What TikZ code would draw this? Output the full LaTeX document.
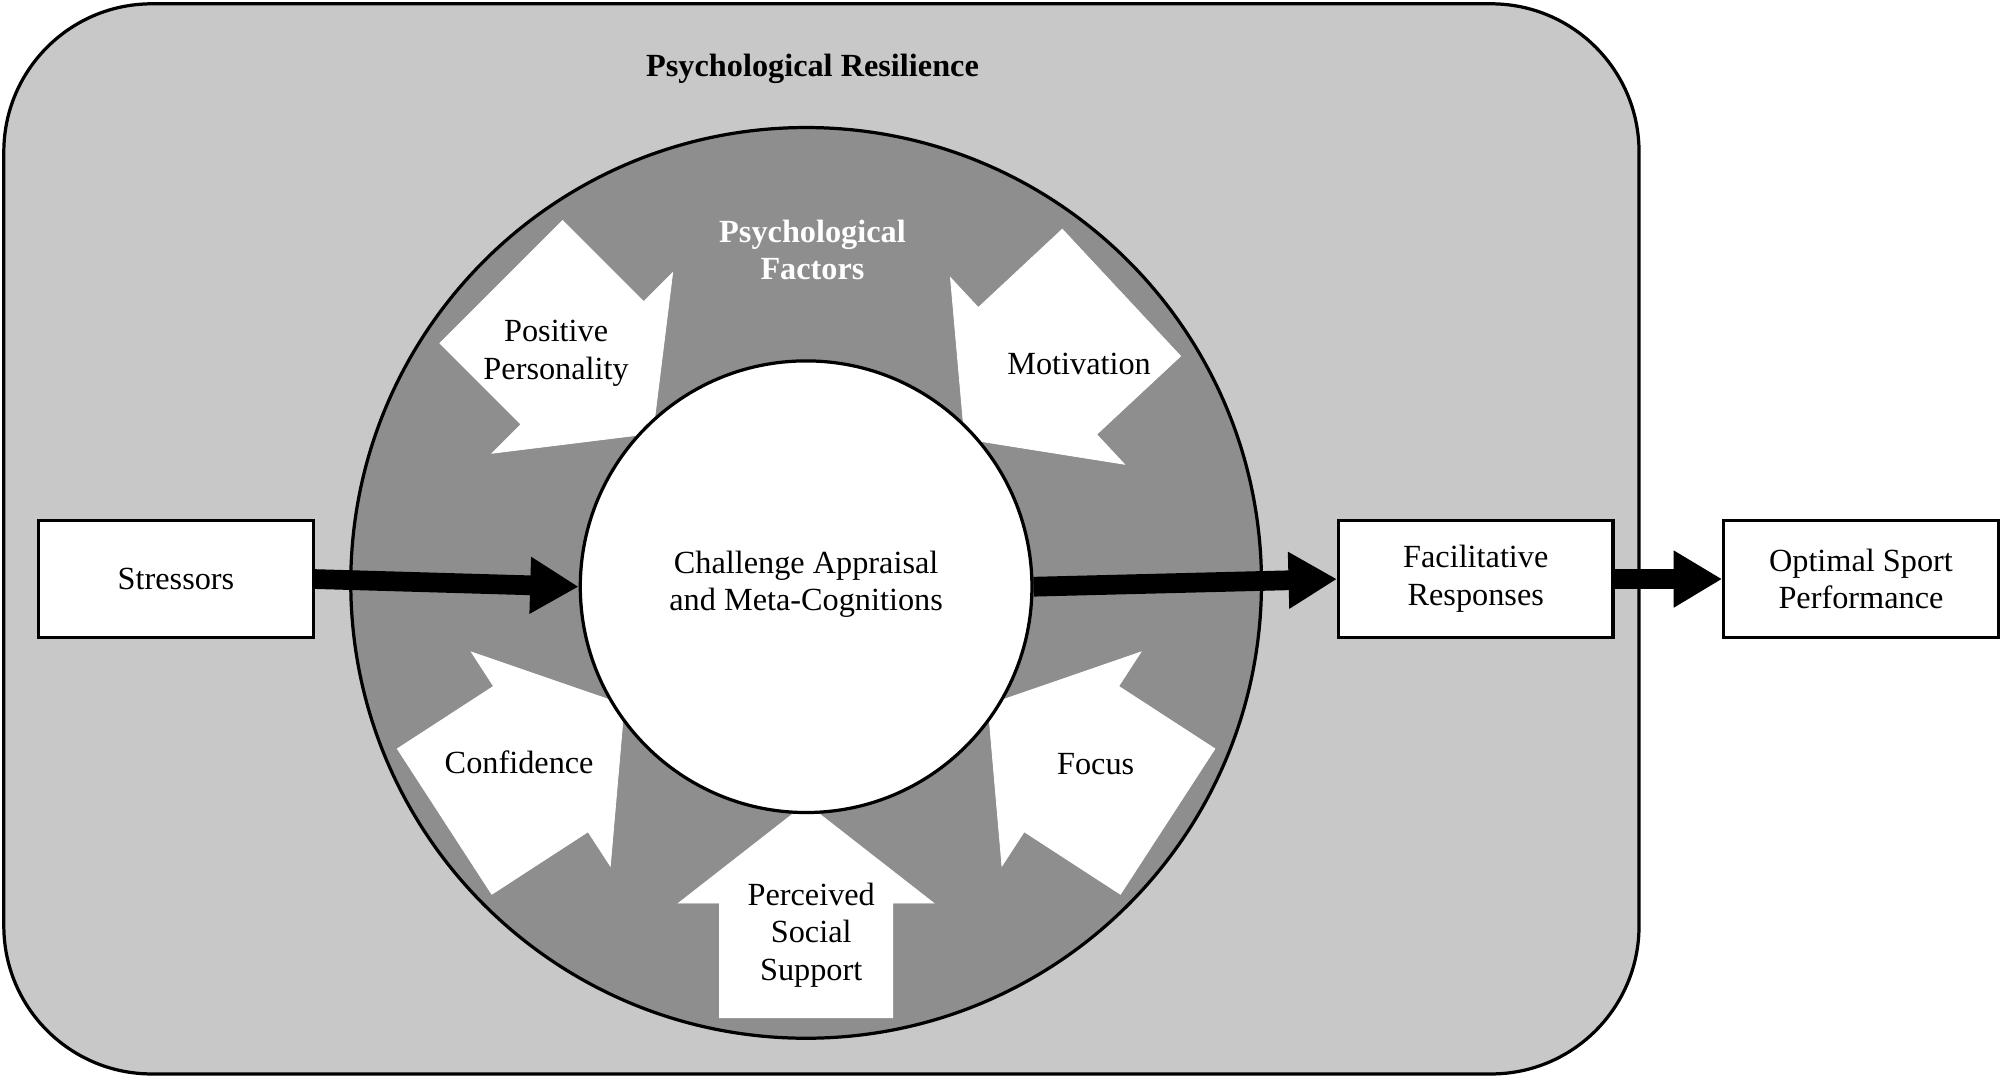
\documentclass[tikz,border=0pt]{standalone}
\usepackage{fontspec}
\setmainfont{Liberation Serif}
\usetikzlibrary{arrows.meta}
\definecolor{light}{HTML}{C8C8C8}
\definecolor{dark}{HTML}{8E8E8E}
\begin{document}
\begin{tikzpicture}[x=0.025cm,y=0.025cm,
  every node/.style={font=\fontsize{18}{21}\selectfont, align=center},
  box/.style={draw, line width=1.8pt, fill=white, minimum width=5.375cm, minimum height=2.3cm},
  big/.style={line width=11pt, -{Triangle[length=0.95cm,width=1.05cm]}},
  warrow/.style={fill=white, draw=white}]
\useasboundingbox (0,0) rectangle (1568,845);
\draw[line width=1.8pt, fill=light, rounded corners=2.9cm] (3,3) rectangle (1285,842);
\node[font=\fontsize{18}{21}\selectfont\bfseries] (title) at (637,791) {Psychological Resilience};
\draw[line width=1.8pt, fill=dark] (632,388) circle (357);
\node[font=\fontsize{18}{21}\selectfont\bfseries, text=white] (pf) at (637,649) {Psychological\\Factors};
\foreach \a in {135,43,-147,-33,-90}{
  \begin{scope}[shift={(632,385)}, rotate=\a]
    \path[warrow] (170,0) -- (248,100) -- (248,68) -- (338,68) -- (338,-68) -- (248,-68) -- (248,-100) -- cycle;
  \end{scope}
}
\node[draw, line width=1.8pt, fill=white, circle, minimum size=8.85cm] (c) at (632,385) {};
\node (ct) at (632,387) {Challenge Appraisal\\and Meta-Cognitions};
\node (pp) at (436,568) {Positive\\Personality};
\node (mo) at (846,560) {Motivation};
\node (co) at (407,247) {Confidence};
\node (fo) at (859,246) {Focus};
\node (ps) at (636,112) {Perceived\\Social\\Support};
\node[box] (s) at (138,391) {Stressors};
\node[box] (f) at (1157,391) {Facilitative\\Responses};
\node[box] (o) at (1459,391) {Optimal Sport\\Performance};
\draw[big] (s.east) -- (c.west);
\draw[big] (c.east) -- (f.west);
\draw[big] (f.east) -- (o.west);
\end{tikzpicture}
\end{document}
